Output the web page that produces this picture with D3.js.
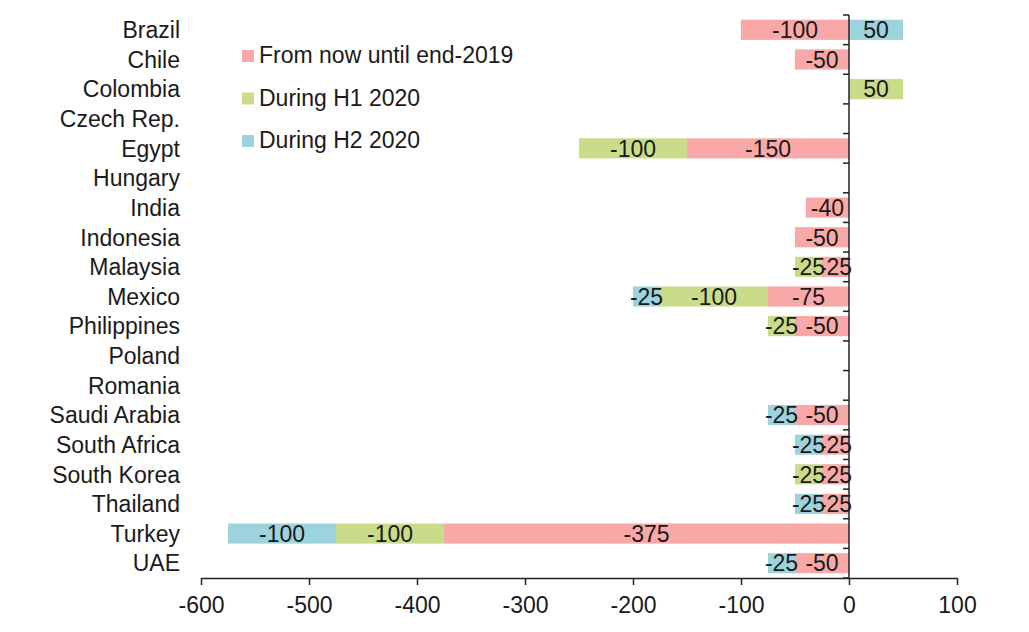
<!DOCTYPE html>
<html>
<head>
<meta charset="utf-8">
<script src="https://cdn.jsdelivr.net/npm/d3@7"></script>
<style>
  body { margin: 0; background: #fff; }
  svg { font-family: "Liberation Sans", Arial, sans-serif; }
</style>
</head>
<body>
<svg id="chart" width="1029" height="632"></svg>
<script>
const countries = ["Brazil", "Chile", "Colombia", "Czech Rep.", "Egypt", "Hungary", "India", "Indonesia",
  "Malaysia", "Mexico", "Philippines", "Poland", "Romania", "Saudi Arabia", "South Africa",
  "South Korea", "Thailand", "Turkey", "UAE"];
const nowToEnd2019 = [-100, -50, 0, 0, -150, 0, -40, -50, -25, -75, -50, 0, 0, -50, -25, -25, -25, -375, -50];
const h1_2020 = [0, 0, 50, 0, -100, 0, 0, 0, -25, -100, -25, 0, 0, 0, 0, -25, 0, -100, 0];
const h2_2020 = [50, 0, 0, 0, 0, 0, 0, 0, 0, -25, 0, 0, 0, -25, -25, 0, -25, -100, -25];
const seriesNames = ["From now until end-2019", "During H1 2020", "During H2 2020"];
const xTicks = [-600, -500, -400, -300, -200, -100, 0, 100];

const colors = ["#f9a8a8", "#c9dc8a", "#9dd3dc"];
const keys = ["now", "h1", "h2"];
const rows = countries.map((c, i) => ({ country: c, now: nowToEnd2019[i], h1: h1_2020[i], h2: h2_2020[i] }));

const fs = 23;
const margin = { top: 15, left: 201, right: 72, bottom: 54 };
const width = 1029 - margin.left - margin.right;
const height = 632 - margin.top - margin.bottom;

const x = d3.scaleLinear().domain([-600, 100]).range([0, width]);
const y = d3.scaleBand().domain(countries).range([0, height]).paddingInner(0.32).paddingOuter(0.16);

const svg = d3.select("#chart").append("g")
  .attr("transform", `translate(${margin.left},${margin.top})`);

const stacked = d3.stack().keys(keys).offset(d3.stackOffsetDiverging)(rows);

// Bars
const layers = svg.selectAll(".layer")
  .data(stacked)
  .enter()
  .append("g")
  .attr("fill", (d, i) => colors[i]);

layers.selectAll("rect")
  .data(d => d)
  .enter()
  .append("rect")
  .attr("x", d => x(Math.min(d[0], d[1])))
  .attr("width", d => Math.abs(x(d[1]) - x(d[0])))
  .attr("y", d => y(d.data.country))
  .attr("height", y.bandwidth());

// Segment labels
layers.selectAll("text")
  .data((d, i) => d.map(s => ({ s, key: d.key })).filter(o => o.s.data[o.key] !== 0))
  .enter()
  .append("text")
  .attr("x", o => x((o.s[0] + o.s[1]) / 2))
  .attr("y", o => y(o.s.data.country) + y.bandwidth() / 2)
  .attr("dy", "0.36em")
  .attr("text-anchor", "middle")
  .attr("fill", "#1a1a1a")
  .attr("font-size", fs)
  .text(o => o.s.data[o.key]);

// X axis
const xAxis = svg.append("g")
  .attr("transform", `translate(0,${height})`)
  .call(d3.axisBottom(x).tickValues(xTicks).tickSize(7).tickSizeOuter(0).tickFormat(d => d));
xAxis.select(".domain").attr("stroke", "#222").attr("stroke-width", 1.5);
xAxis.selectAll("line").attr("stroke", "#222").attr("stroke-width", 1.5);
xAxis.selectAll("text").attr("font-size", fs).attr("fill", "#1a1a1a").attr("y", 19);

// Y axis at zero with ticks on band boundaries
const yAxisG = svg.append("g").attr("transform", `translate(${x(0)},0)`);
yAxisG.append("line")
  .attr("y1", 0).attr("y2", height)
  .attr("stroke", "#222").attr("stroke-width", 1.5);
const bounds = d3.range(countries.length + 1).map(i => i * y.step());
yAxisG.selectAll(".tk")
  .data(bounds)
  .enter()
  .append("line")
  .attr("x1", -6).attr("x2", 0)
  .attr("y1", d => d).attr("y2", d => d)
  .attr("stroke", "#222").attr("stroke-width", 1.5);

// Category labels
svg.selectAll(".cat")
  .data(countries)
  .enter()
  .append("text")
  .attr("x", -21)
  .attr("y", d => y(d) + y.bandwidth() / 2)
  .attr("dy", "0.36em")
  .attr("text-anchor", "end")
  .attr("font-size", fs)
  .attr("fill", "#1a1a1a")
  .text(d => d);

// Legend
const legend = svg.append("g").attr("transform", "translate(41,40)");
seriesNames.forEach((name, i) => {
  const g = legend.append("g").attr("transform", `translate(0,${i * 42.5})`);
  g.append("rect").attr("x", 0).attr("y", -5).attr("width", 12).attr("height", 12).attr("fill", colors[i]);
  g.append("text").attr("x", 17).attr("y", 0).attr("dy", "0.36em")
    .attr("font-size", fs).attr("fill", "#1a1a1a").text(name);
});
</script>
</body>
</html>
